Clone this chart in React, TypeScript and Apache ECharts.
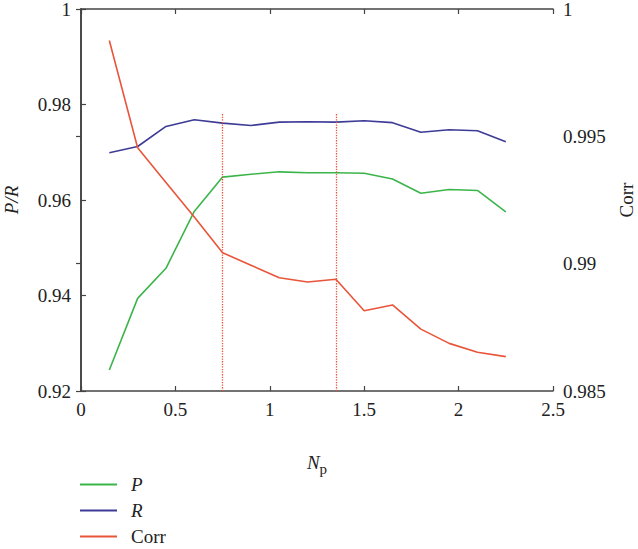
import React, { useEffect, useRef } from "react";
import * as echarts from "echarts";

const xValues = [0.15, 0.3, 0.45, 0.6, 0.75, 0.9, 1.05, 1.2, 1.35, 1.5, 1.65, 1.8, 1.95, 2.1, 2.25];
const pValues = [0.9244, 0.9394, 0.9457, 0.9576, 0.9648, 0.9654, 0.9659, 0.9657, 0.9657, 0.9656, 0.9644, 0.9614, 0.9622, 0.962, 0.9575];
const rValues = [0.9699, 0.9712, 0.9754, 0.9768, 0.9761, 0.9756, 0.9763, 0.9764, 0.9763, 0.9766, 0.9762, 0.9742, 0.9747, 0.9745, 0.9722];
const corrValues = [0.99876, 0.99455, 0.99319, 0.99183, 0.99043, 0.98994, 0.98945, 0.98928, 0.98939, 0.98815, 0.98838, 0.98743, 0.98687, 0.98652, 0.98635];
const markerX = [0.75, 1.35];
const markerTop = 0.9782;
const seriesNames = ["P", "R", "Corr"];

const FONT = "Liberation Serif";
const AXIS_COLOR = "#444";
const FS = 19;

export default function App() {
  const ref = useRef<HTMLDivElement>(null);
  useEffect(() => {
    if (!ref.current) return;
    const chart = echarts.init(ref.current, null, { renderer: "svg" });
    const zip = (vals: number[]) => xValues.map((x, i) => [x, vals[i]]);
    const axisLine = { show: true, lineStyle: { color: AXIS_COLOR, width: 1.6 } };
    const tick = { show: true, inside: true, length: 5, lineStyle: { color: AXIS_COLOR, width: 1.2 } };
    const label = { color: "#222", fontFamily: FONT, fontSize: FS };
    const legends = seriesNames.map((n, i) => ({
      orient: "vertical",
      left: 80,
      top: 475 + i * 26,
      padding: 0,
      icon: "rect",
      itemWidth: 37,
      itemHeight: 2,
      data: [n],
      formatter: (s: string) => (s === "Corr" ? s : `{i|${s}}`),
      textStyle: {
        fontFamily: FONT,
        fontSize: FS,
        color: "#222",
        lineHeight: 19,
        padding: [0, 0, 0, 9],
        rich: { i: { fontStyle: "italic", fontFamily: FONT, fontSize: FS, color: "#222", lineHeight: 19 } },
      },
    }));
    chart.setOption({
      animation: false,
      textStyle: { fontFamily: FONT },
      grid: { left: 81, right: 85, top: 9, bottom: 158, containLabel: false, outerBoundsMode: "none" },
      legend: legends,
      xAxis: [
        {
          type: "value",
          min: 0,
          max: 2.5,
          interval: 0.5,
          position: "bottom",
          axisLine,
          axisTick: tick,
          axisLabel: { ...label, margin: 9 },
          splitLine: { show: false },
          name: "{n|N}{s|p}",
          nameLocation: "middle",
          nameGap: 58,
          nameTextStyle: {
            rich: {
              n: { fontStyle: "italic", fontFamily: FONT, fontSize: FS, color: "#222" },
              s: { fontFamily: FONT, fontSize: 15, color: "#222", verticalAlign: "bottom", padding: [12, 0, 0, 0] },
            },
          },
        },
        {
          type: "value",
          min: 0,
          max: 2.5,
          interval: 0.5,
          position: "top",
          axisLine,
          axisTick: tick,
          axisLabel: { show: false },
          splitLine: { show: false },
        },
      ],
      yAxis: [
        {
          type: "value",
          min: 0.92,
          max: 1,
          interval: 0.02,
          position: "left",
          axisLine,
          axisTick: tick,
          axisLabel: { ...label, margin: 10 },
          splitLine: { show: false },
          name: "P/R",
          nameLocation: "middle",
          nameGap: 60,
          nameRotate: 90,
          nameTextStyle: { fontFamily: FONT, fontSize: FS, fontStyle: "italic", color: "#222" },
        },
        {
          type: "value",
          min: 0.985,
          max: 1,
          interval: 0.005,
          position: "right",
          axisLine,
          axisTick: tick,
          axisLabel: { ...label, margin: 10 },
          splitLine: { show: false },
          name: "Corr",
          nameLocation: "middle",
          nameGap: 64,
          nameRotate: 90,
          nameTextStyle: { fontFamily: FONT, fontSize: FS, color: "#222" },
        },
      ],
      series: [
        {
          name: "P",
          type: "line",
          xAxisIndex: 0,
          yAxisIndex: 0,
          data: zip(pValues),
          symbol: "none",
          color: "#3bb54a",
          lineStyle: { width: 1.6, color: "#3bb54a" },
          markLine: {
            silent: true,
            symbol: "none",
            label: { show: false },
            lineStyle: { color: "#e8553a", type: "dotted", width: 1.3 },
            data: markerX.map((x) => [
              { coord: [x, 0.92] },
              { coord: [x, markerTop] },
            ]),
          },
        },
        {
          name: "R",
          type: "line",
          xAxisIndex: 0,
          yAxisIndex: 0,
          data: zip(rValues),
          symbol: "none",
          color: "#3d3b96",
          lineStyle: { width: 1.6, color: "#3d3b96" },
        },
        {
          name: "Corr",
          type: "line",
          xAxisIndex: 0,
          yAxisIndex: 1,
          data: zip(corrValues),
          symbol: "none",
          color: "#e8553a",
          lineStyle: { width: 1.6, color: "#e8553a" },
        },
      ],
    });
    return () => chart.dispose();
  }, []);
  return (
    <div
      ref={ref}
      style={{ position: "absolute", left: 0, top: 0, width: 638, height: 549, background: "#fff" }}
    />
  );
}
